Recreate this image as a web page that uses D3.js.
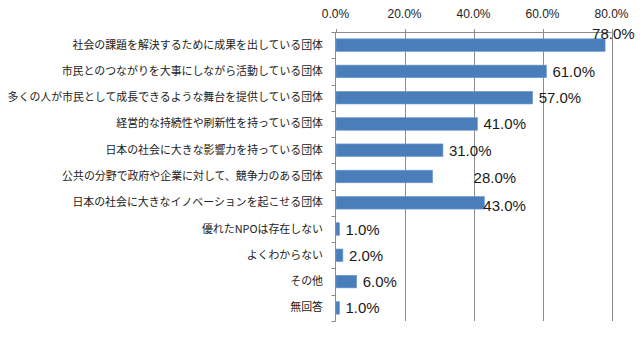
<!DOCTYPE html>
<html><head><meta charset="utf-8">
<script src="https://cdn.jsdelivr.net/npm/d3@7"></script>
<style>body{margin:0;background:#fff}svg{display:block}</style>
</head><body>
<svg id="c" width="640" height="337"></svg>
<script>
const categories = [
  "社会の課題を解決するために成果を出している団体",
  "市民とのつながりを大事にしながら活動している団体",
  "多くの人が市民として成長できるような舞台を提供している団体",
  "経営的な持続性や刷新性を持っている団体",
  "日本の社会に大きな影響力を持っている団体",
  "公共の分野で政府や企業に対して、競争力のある団体",
  "日本の社会に大きなイノベーションを起こせる団体",
  "優れたNPOは存在しない",
  "よくわからない",
  "その他",
  "無回答"
];
const values = [78, 61, 57, 41, 31, 28, 43, 1, 2, 6, 1];
const tickValues = [0, 20, 40, 60, 80];
const tickLabels = ["0.0%", "20.0%", "40.0%", "60.0%", "80.0%"];

// label nudges (layout, px) reproducing manually moved data labels
const labelNudge = {0: [-19, -12], 5: [35, 1], 6: [-7, 3]};

const svg = d3.select("#c");
const x = d3.scaleLinear().domain([0, 80]).range([335.5, 611.5]);
const y = d3.scaleBand().domain(d3.range(categories.length)).range([32, 321]).paddingInner(0.52).paddingOuter(0.26);
const band = d3.scaleBand().domain(d3.range(categories.length)).range([32, 321]);

// gridlines
svg.append("g").selectAll("line").data(tickValues.slice(1)).join("line")
  .attr("x1", d => Math.round(x(d)) + 0.5).attr("x2", d => Math.round(x(d)) + 0.5)
  .attr("y1", 29).attr("y2", 321)
  .attr("stroke", "#8c8c8c").attr("stroke-width", 1);

// top axis line
svg.append("line").attr("x1", 335.5).attr("x2", 611.5).attr("y1", 32.5).attr("y2", 32.5)
  .attr("stroke", "#8c8c8c");
svg.append("g").selectAll("line").data(tickValues).join("line")
  .attr("x1", d => Math.round(x(d)) + 0.5).attr("x2", d => Math.round(x(d)) + 0.5)
  .attr("y1", 29).attr("y2", 33).attr("stroke", "#8c8c8c");
svg.append("g").selectAll("text").data(tickValues).join("text")
  .attr("x", d => x(d)).attr("y", 15)
  .attr("text-anchor", "middle").attr("dominant-baseline", "middle")
  .attr("font-family", "Liberation Sans, Arial, sans-serif").attr("font-size", 12)
  .attr("fill", "#222")
  .text((d, i) => tickLabels[i]);

// left axis
svg.append("line").attr("x1", 335.5).attr("x2", 335.5).attr("y1", 32).attr("y2", 321.5).attr("stroke", "#8c8c8c");
const boundaries = d3.range(categories.length + 1).map(i => 32 + band.step() * i);
svg.append("g").selectAll("line").data(boundaries).join("line")
  .attr("x1", 331.5).attr("x2", 335.5)
  .attr("y1", d => Math.round(d) + 0.5).attr("y2", d => Math.round(d) + 0.5)
  .attr("stroke", "#8c8c8c");

// bars
svg.append("g").selectAll("rect").data(values).join("rect")
  .attr("x", x(0) + 0.5).attr("y", (d, i) => y(i))
  .attr("width", d => x(d) - x(0)).attr("height", y.bandwidth())
  .attr("fill", "#4a7ebb").attr("stroke", "#6f9bd0").attr("stroke-width", 0.6);

// category labels
const catText = svg.append("g").selectAll("text").data(categories).join("text")
  .attr("x", 323).attr("y", (d, i) => band(i) + band.bandwidth() / 2 + 0.5)
  .attr("text-anchor", "end").attr("dominant-baseline", "middle")
  .attr("font-family", "'Noto Sans CJK JP', sans-serif").attr("font-size", 11.3)
  .attr("fill", "#222")
  .text(d => d);
// fit longest label to the reference width (~316px)
let maxW = 0;
catText.each(function() { maxW = Math.max(maxW, this.getComputedTextLength()); });
if (maxW > 316) catText.attr("font-size", 11.3 * 316 / maxW);

// data labels
svg.append("g").selectAll("text").data(values).join("text")
  .attr("x", (d, i) => x(d) + 6.5 + (labelNudge[i] ? labelNudge[i][0] : 0))
  .attr("y", (d, i) => band(i) + band.bandwidth() / 2 + 1.5 + (labelNudge[i] ? labelNudge[i][1] : 0))
  .attr("dominant-baseline", "middle")
  .attr("font-family", "Liberation Sans, Arial, sans-serif").attr("font-size", 15)
  .attr("fill", "#1a1a1a")
  .text(d => d.toFixed(1) + "%");
</script>
</body></html>
